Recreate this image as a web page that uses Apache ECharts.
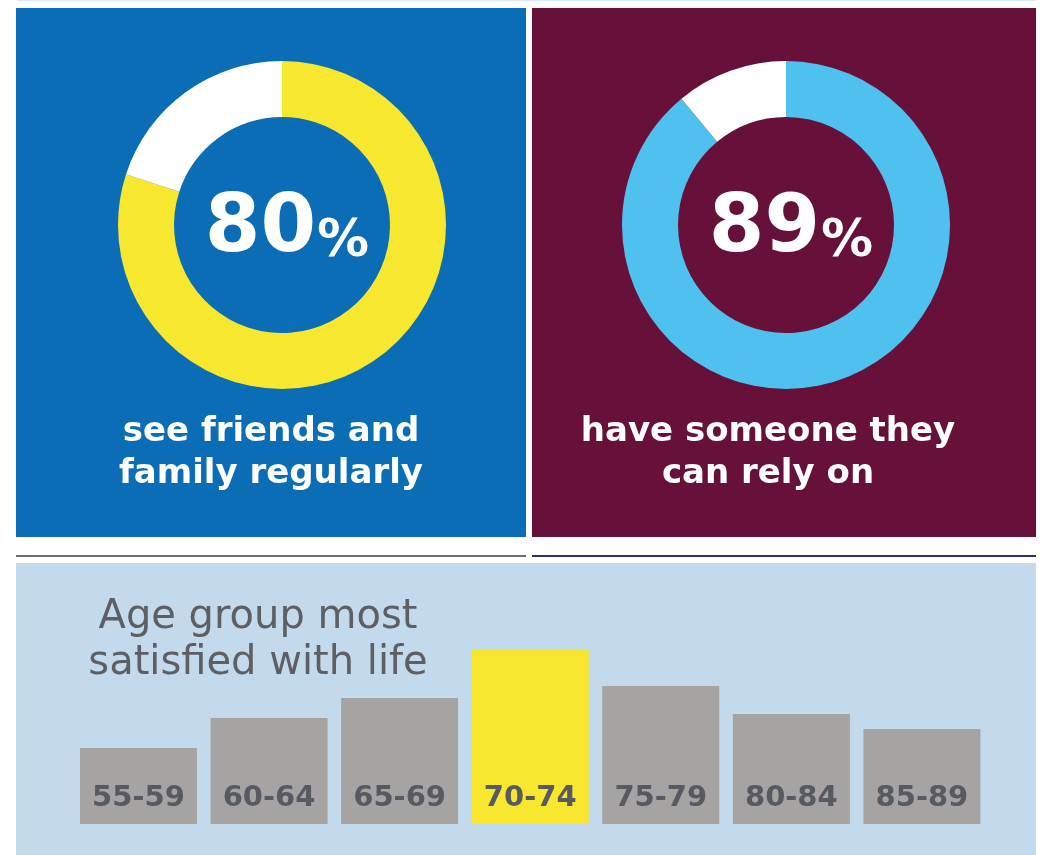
<!DOCTYPE html>
<html>
<head>
<meta charset="utf-8">
<script src="https://cdn.jsdelivr.net/npm/echarts@6/dist/echarts.min.js"></script>
<style>
  html, body { margin: 0; padding: 0; background: #ffffff; }
  #chart { width: 1043px; height: 855px; }
</style>
</head>
<body>
<div id="chart"></div>
<script>
// ---- data ----
const donutValues = [80, 89];
const donutCaptions = ['see friends and\nfamily regularly', 'have someone they\ncan rely on'];
const ageGroups = ['55-59', '60-64', '65-69', '70-74', '75-79', '80-84', '85-89'];
const satisfaction = [76, 106, 126, 175, 138, 110, 95];
const highlightGroup = '70-74';
const barTitle = 'Age group most\nsatisfied with life';

// ---- styles ----
const FONT = 'DejaVu Sans';
const BLUE = '#0a6db5', MAROON = '#66103a', YELLOW = '#f8e72f', CYAN = '#4fc1ee';
const PALE = '#c3daec', GREY_BAR = '#a5a4a2', TEXT_GREY = '#575a60';

const chart = echarts.init(document.getElementById('chart'), null, { renderer: 'canvas' });

function donut(value, center, ringColor) {
  return {
    type: 'pie',
    center: center,
    radius: [108, 164],
    startAngle: 90,
    clockwise: true,
    silent: true,
    animation: false,
    z: 3,
    label: { show: false },
    labelLine: { show: false },
    data: [
      {
        value: value,
        itemStyle: { color: ringColor },
        label: {
          show: true,
          position: 'center',
          offset: [5, 0],
          formatter: p => `{big|${p.value}}{pct|%}`,
          rich: {
            big: { fontFamily: FONT, fontWeight: 'bold', fontSize: 80, color: '#fff', lineHeight: 90, verticalAlign: 'bottom' },
            pct: { fontFamily: FONT, fontWeight: 'bold', fontSize: 52, color: '#fff', lineHeight: 90, verticalAlign: 'bottom', padding: [0, 0, 2, 1] }
          }
        }
      },
      { value: 100 - value, itemStyle: { color: '#ffffff' }, label: { show: false } }
    ]
  };
}

const option = {
  animation: false,
  backgroundColor: '#ffffff',
  graphic: [
    { type: 'rect', z: 0, shape: { x: 17, y: 0, width: 1019, height: 1 }, style: { fill: '#dce8f3' } },
    { type: 'rect', z: 0, shape: { x: 16, y: 8, width: 510, height: 529 }, style: { fill: BLUE } },
    { type: 'rect', z: 0, shape: { x: 532, y: 8, width: 504, height: 529 }, style: { fill: MAROON } },
    { type: 'rect', z: 0, shape: { x: 16, y: 555, width: 510, height: 2 }, style: { fill: '#6d6d6d' } },
    { type: 'rect', z: 0, shape: { x: 532, y: 555, width: 504, height: 2 }, style: { fill: '#283372' } },
    { type: 'rect', z: 0, shape: { x: 16, y: 563, width: 1020, height: 292 }, style: { fill: PALE } },
    { type: 'text', z: 10, left: 271 - 170, top: 411, style: { text: donutCaptions[0], width: 340, textAlign: 'center', fill: '#ffffff', font: `bold 34px "${FONT}"`, lineHeight: 42 } },
    { type: 'text', z: 10, left: 768 - 220, top: 411, style: { text: donutCaptions[1], width: 440, textAlign: 'center', fill: '#ffffff', font: `bold 34px "${FONT}"`, lineHeight: 42 } },
    { type: 'text', z: 10, left: 258 - 200, top: 595, style: { text: barTitle, width: 400, textAlign: 'center', fill: '#5d5f63', font: `40px "${FONT}"`, lineHeight: 46 } }
  ],
  grid: { left: 73.2, right: 55.8, top: 624, bottom: 31, containLabel: false },
  xAxis: {
    type: 'category',
    data: ageGroups,
    show: false
  },
  yAxis: { type: 'value', min: 0, max: 200, show: false },
  series: [
    donut(donutValues[0], [282, 225], YELLOW),
    donut(donutValues[1], [786, 225], CYAN),
    {
      type: 'bar',
      silent: true,
      barWidth: 117,
      z: 3,
      data: satisfaction,
      itemStyle: {
        color: p => (ageGroups[p.dataIndex] === highlightGroup ? YELLOW : GREY_BAR)
      },
      label: {
        show: true,
        position: 'insideBottom',
        distance: 11,
        formatter: p => ageGroups[p.dataIndex],
        fontFamily: FONT,
        fontWeight: 'bold',
        fontSize: 29,
        color: TEXT_GREY
      }
    }
  ]
};

chart.setOption(option);
</script>
</body>
</html>
